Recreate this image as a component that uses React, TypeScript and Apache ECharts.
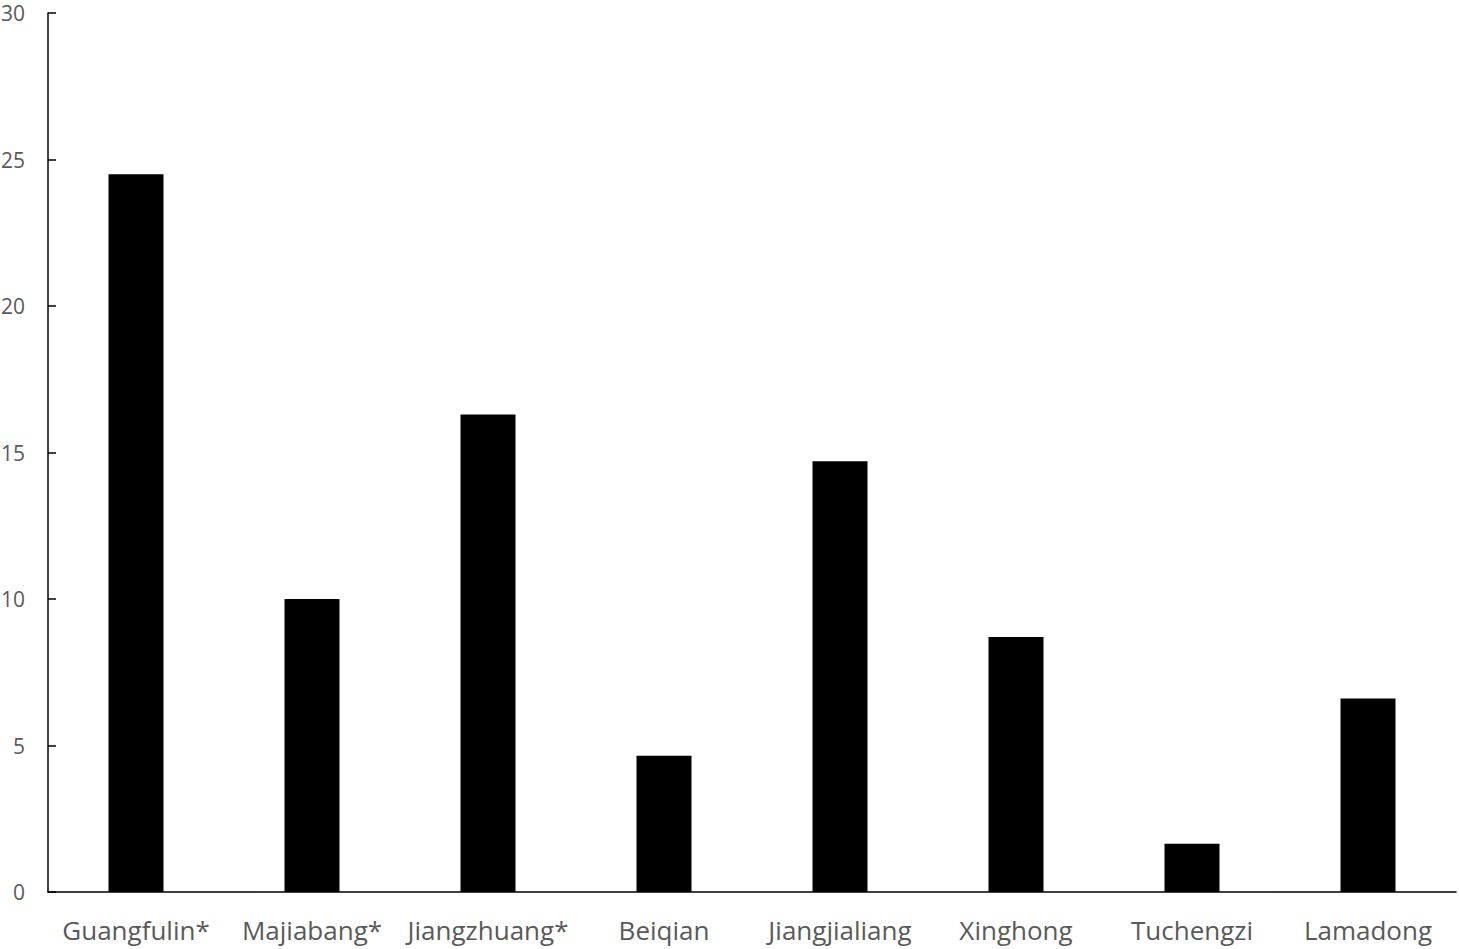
import React, { useEffect, useRef } from "react";
import * as echarts from "echarts";

const categories = ["Guangfulin*", "Majiabang*", "Jiangzhuang*", "Beiqian", "Jiangjialiang", "Xinghong", "Tuchengzi", "Lamadong"];
const values = [24.5, 10.0, 16.3, 4.65, 14.7, 8.7, 1.65, 6.6];

export default function App() {
  const ref = useRef<HTMLDivElement>(null);
  useEffect(() => {
    if (!ref.current) return;
    const chart = echarts.init(ref.current, undefined, { renderer: "svg" });
    chart.setOption({
      animation: false,
      grid: { left: 48, right: 3, top: 13, bottom: 57, containLabel: false, outerBoundsMode: "none" },
      xAxis: {
        type: "category",
        data: categories,
        axisLine: { lineStyle: { color: "#000", width: 1.5 } },
        axisTick: { show: false },
        axisLabel: { color: "#595959", fontSize: 26, fontFamily: "Open Sans", margin: 25, interval: 0 },
      },
      yAxis: {
        type: "value",
        min: 0,
        max: 30,
        interval: 5,
        splitLine: { show: false },
        axisLine: { show: true, lineStyle: { color: "#000", width: 1.5 } },
        axisTick: { show: true, inside: true, length: 8, lineStyle: { color: "#000", width: 1.5 } },
        axisLabel: { color: "#595959", fontSize: 21, fontFamily: "Open Sans", margin: 23 },
      },
      series: [
        {
          type: "bar",
          data: values,
          barWidth: 55,
          itemStyle: { color: "#000" },
        },
      ],
    });
    return () => chart.dispose();
  }, []);
  return <div ref={ref} style={{ width: 1459, height: 949, position: "absolute", left: 0, top: 0 }} />;
}
